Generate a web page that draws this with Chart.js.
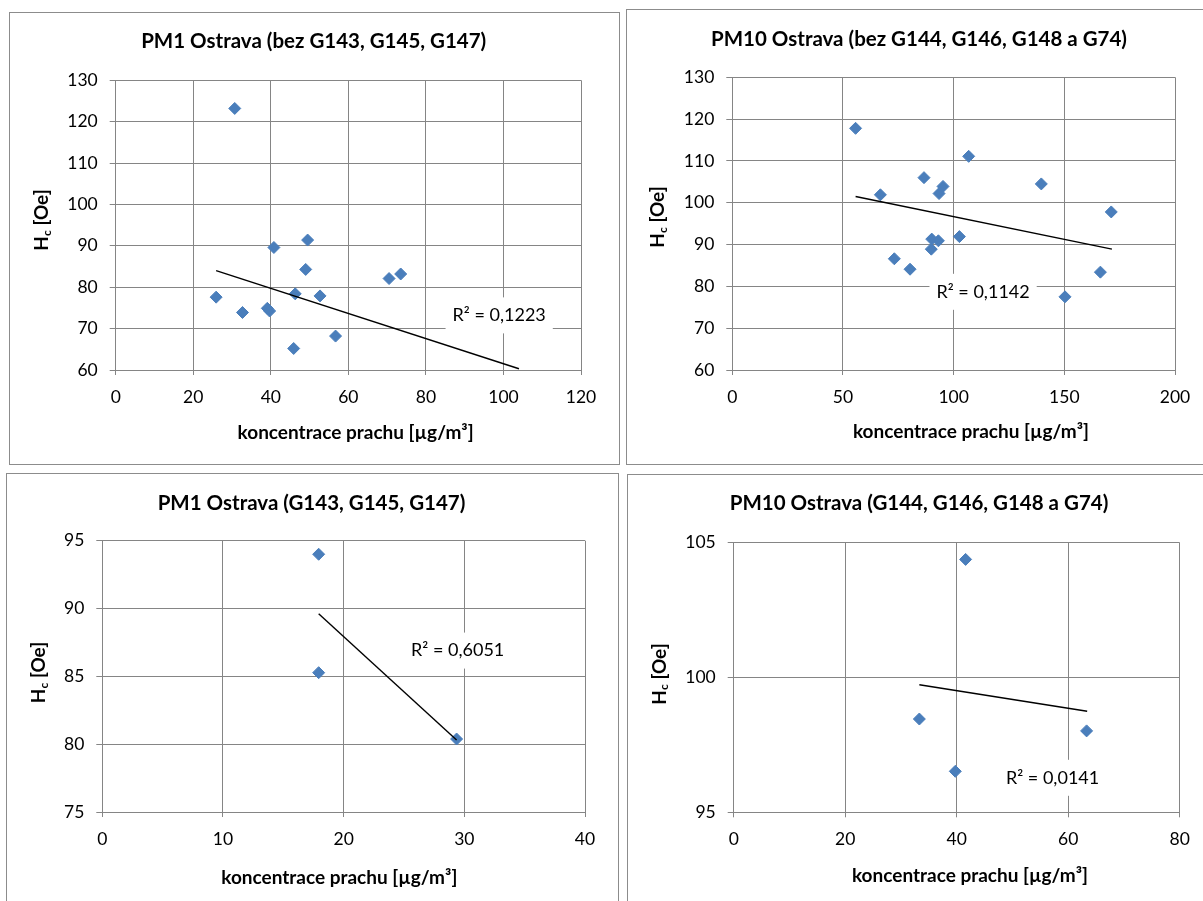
<!DOCTYPE html>
<html>
<head>
<meta charset="utf-8">
<script src="https://cdn.jsdelivr.net/npm/chart.js@4.4.0/dist/chart.umd.min.js"></script>
<style>
html,body{margin:0;padding:0;background:#fff;width:1203px;height:901px;overflow:hidden;}
.panel{position:absolute;box-sizing:border-box;border:1px solid #8c8c8c;background:#fff;}
.panel canvas{position:absolute;left:0;top:0;}
</style>
</head>
<body>
<div class="panel" style="left:9px;top:12px;width:611px;height:453px"><canvas id="c1" width="609" height="451"></canvas></div>
<div class="panel" style="left:626px;top:9px;width:590px;height:456px"><canvas id="c2" width="588" height="454"></canvas></div>
<div class="panel" style="left:6px;top:473px;width:613px;height:440px"><canvas id="c3" width="611" height="438"></canvas></div>
<div class="panel" style="left:627px;top:474px;width:590px;height:440px"><canvas id="c4" width="588" height="438"></canvas></div>
<script>
// ---------- DATA ----------
const pm1Title = "PM1 Ostrava (bez G143, G145, G147)";
const pm1X = [25.9, 32.7, 39.1, 39.7, 40.8, 49.5, 49.0, 46.3, 52.7, 45.9, 56.7, 70.5, 73.5, 30.7];
const pm1Y = [77.6, 73.9, 74.9, 74.25, 89.6, 91.4, 84.3, 78.4, 77.9, 65.2, 68.2, 82.1, 83.2, 123.2];
const pm1TrendX = [25.9, 104.0];
const pm1TrendY = [84.0, 60.3];
const pm1R2 = "R\u00B2 = 0,1223";

const pm10Title = "PM10 Ostrava (bez G144, G146, G148 a G74)";
const pm10X = [55.7, 66.9, 73.2, 80.3, 86.6, 90.1, 93.1, 89.9, 93.4, 95.2, 102.6, 106.8, 139.6, 171.2, 166.3, 150.3];
const pm10Y = [117.8, 101.9, 86.6, 84.1, 106.0, 91.3, 90.9, 88.9, 102.2, 103.9, 91.9, 111.1, 104.5, 97.8, 83.4, 77.5];
const pm10TrendX = [55.7, 171.5];
const pm10TrendY = [101.5, 88.9];
const pm10R2 = "R\u00B2 = 0,1142";

const pm1gTitle = "PM1 Ostrava (G143, G145, G147)";
const pm1gX = [17.93, 17.93, 29.36];
const pm1gY = [94.0, 85.27, 80.38];
const pm1gTrendX = [17.93, 29.36];
const pm1gTrendY = [89.62, 80.31];
const pm1gR2 = "R\u00B2 = 0,6051";

const pm10gTitle = "PM10 Ostrava (G144, G146, G148 a G74)";
const pm10gX = [41.6, 33.3, 39.75, 63.3];
const pm10gY = [104.38, 98.46, 96.52, 98.02];
const pm10gTrendX = [33.3, 63.4];
const pm10gTrendY = [99.73, 98.75];
const pm10gR2 = "R\u00B2 = 0,0141";

const xAxisTitle = "koncentrace prachu [\u00B5g/m\u00B3]";
const yAxisMain = "H";
const yAxisSub = "c";
const yAxisRest = " [Oe]";

// ---------- STYLE ----------
const FAMILY = "Lato, 'Open Sans', sans-serif";
const BLUE = "#4a7ebb";
const GRID = "#858585";
const TICK_SIZE = 17.5;
const TITLE_FONT = "bold 20.5px " + FAMILY;
const AXT_FONT = "bold 19px " + FAMILY;
const SUB_FONT = "bold 12px " + FAMILY;
const R2_FONT = "18px " + FAMILY;
const Y_W = 60, X_H = 60;

const textPlugin = {
  id: 'panelText',
  beforeDatasetsDraw(chart, args, o) {
    const ctx = chart.ctx;
    const px = chart.scales.x.getPixelForValue(o.labelAt[0]);
    const py = chart.scales.y.getPixelForValue(o.labelAt[1]);
    ctx.save();
    ctx.font = R2_FONT;
    const w = ctx.measureText(o.r2).width;
    ctx.fillStyle = '#fff';
    ctx.fillRect(px - w / 2 - 7, py - 18, w + 14, 36);
    ctx.fillStyle = '#000';
    ctx.textAlign = 'center';
    ctx.textBaseline = 'middle';
    ctx.fillText(o.r2, px, py);
    ctx.restore();
  },
  afterDraw(chart, args, o) {
    const ctx = chart.ctx;
    ctx.save();
    ctx.fillStyle = '#000';
    ctx.textAlign = 'center';
    ctx.textBaseline = 'middle';
    ctx.font = TITLE_FONT;
    ctx.fillText(o.title, o.titlePos[0], o.titlePos[1]);
    ctx.font = AXT_FONT;
    ctx.fillText(xAxisTitle, o.xTitlePos[0], o.xTitlePos[1]);
    // rotated y title with subscript
    ctx.translate(o.yTitlePos[0], o.yTitlePos[1]);
    ctx.rotate(-Math.PI / 2);
    ctx.textAlign = 'left';
    ctx.font = AXT_FONT;
    const wH = ctx.measureText(yAxisMain).width;
    const wR = ctx.measureText(yAxisRest).width;
    ctx.font = SUB_FONT;
    const wS = ctx.measureText(yAxisSub).width;
    let sx = -(wH + wS + wR) / 2;
    ctx.font = AXT_FONT;
    ctx.fillText(yAxisMain, sx, 0);
    sx += wH;
    ctx.font = SUB_FONT;
    ctx.fillText(yAxisSub, sx, 5);
    sx += wS;
    ctx.font = AXT_FONT;
    ctx.fillText(yAxisRest, sx, 0);
    ctx.restore();
  }
};

function makeChart(id, d, L) {
  const pts = d.xs.map((x, i) => ({x: x, y: d.ys[i]}));
  const tr = d.tx.map((x, i) => ({x: x, y: d.ty[i]}));
  const tickFont = {family: FAMILY, size: TICK_SIZE};
  return new Chart(document.getElementById(id), {
    type: 'scatter',
    data: {
      datasets: [
        {data: tr, showLine: true, borderColor: '#000', borderWidth: 1.4, pointRadius: 0, pointHoverRadius: 0, order: 0},
        {data: pts, pointStyle: 'rectRot', pointRadius: 6, pointHoverRadius: 6, backgroundColor: BLUE, borderColor: BLUE, borderWidth: 1, order: 1}
      ]
    },
    options: {
      responsive: false, animation: false, events: [],
      layout: {padding: {left: L.left - Y_W, top: L.top, right: L.right, bottom: L.bottom - X_H}},
      plugins: {
        legend: {display: false}, tooltip: {enabled: false},
        panelText: {title: d.title, r2: d.r2, labelAt: L.labelAt, titlePos: L.titlePos, xTitlePos: L.xTitlePos, yTitlePos: L.yTitlePos}
      },
      scales: {
        x: {type: 'linear', min: L.xr[0], max: L.xr[1],
            ticks: {stepSize: L.xr[2], color: '#000', font: tickFont, padding: 12},
            grid: {color: GRID, lineWidth: 1, tickLength: 5}, border: {color: GRID, width: 1},
            afterFit(s) { s.height = X_H; }},
        y: {type: 'linear', min: L.yr[0], max: L.yr[1],
            ticks: {stepSize: L.yr[2], color: '#000', font: tickFont, padding: 12},
            grid: {color: GRID, lineWidth: 1, tickLength: 6}, border: {color: GRID, width: 1},
            afterFit(s) { s.width = Y_W; }}
      }
    },
    plugins: [textPlugin]
  });
}

makeChart('c1', {xs: pm1X, ys: pm1Y, tx: pm1TrendX, ty: pm1TrendY, title: pm1Title, r2: pm1R2},
  {left: 105.7, top: 67.3, right: 38, bottom: 94, xr: [0, 120, 20], yr: [60, 130, 10],
   labelAt: [98.9, 73.2], titlePos: [303.7, 28.7], xTitlePos: [345.6, 420], yTitlePos: [32, 207]});
makeChart('c2', {xs: pm10X, ys: pm10Y, tx: pm10TrendX, ty: pm10TrendY, title: pm10Title, r2: pm10R2},
  {left: 105.3, top: 67.3, right: 40, bottom: 94, xr: [0, 200, 50], yr: [60, 130, 10],
   labelAt: [113.3, 78.7], titlePos: [292, 29], xTitlePos: [344, 421.7], yTitlePos: [31, 207]});
makeChart('c3', {xs: pm1gX, ys: pm1gY, tx: pm1gTrendX, ty: pm1gTrendY, title: pm1gTitle, r2: pm1gR2},
  {left: 95.3, top: 66.7, right: 33, bottom: 100, xr: [0, 40, 10], yr: [75, 95, 5],
   labelAt: [29.45, 86.9], titlePos: [304.5, 29.3], xTitlePos: [332.3, 404.3], yTitlePos: [31.7, 198.5]});
makeChart('c4', {xs: pm10gX, ys: pm10gY, tx: pm10gTrendX, ty: pm10gTrendY, title: pm10gTitle, r2: pm10gR2},
  {left: 105.7, top: 67.7, right: 36.3, bottom: 100.7, xr: [0, 80, 20], yr: [95, 105, 5],
   labelAt: [57.2, 96.28], titlePos: [291, 28.3], xTitlePos: [342, 401], yTitlePos: [31.6, 199]});
</script>
</body>
</html>
